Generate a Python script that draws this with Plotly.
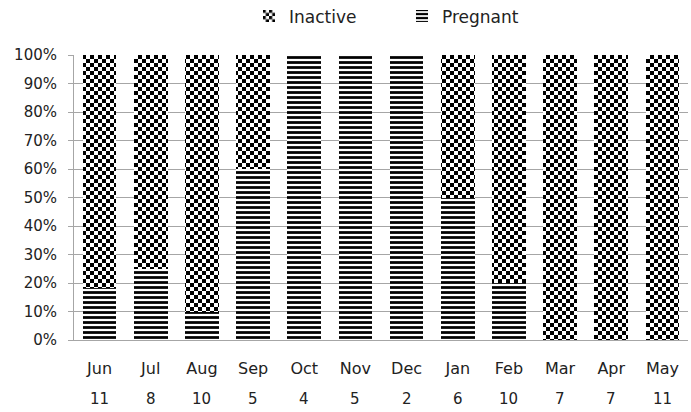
import plotly.graph_objects as go

# Monthly reproductive status counts
months = ["Jun", "Jul", "Aug", "Sep", "Oct", "Nov", "Dec", "Jan", "Feb", "Mar", "Apr", "May"]
sample_size = [11, 8, 10, 5, 4, 5, 2, 6, 10, 7, 7, 11]
pregnant = [2, 2, 1, 3, 4, 5, 2, 3, 2, 0, 0, 0]
inactive = [9, 6, 9, 2, 0, 0, 0, 3, 8, 7, 7, 11]
y_ticks = [0, 10, 20, 30, 40, 50, 60, 70, 80, 90, 100]
y_labels = [f"{v}%" for v in y_ticks]

FONT = "DejaVu Sans"
GRID = "#a6a6a6"

fig = go.Figure()
fig.add_trace(go.Bar(
    x=months, y=pregnant, name="Pregnant",
    marker=dict(color="white", line=dict(width=0),
                pattern=dict(shape="-", size=5, solidity=0.55,
                             fgcolor="black", bgcolor="white", fillmode="replace")),
))
fig.add_trace(go.Bar(
    x=months, y=inactive, name="Inactive",
    marker=dict(color="white", line=dict(width=0),
                pattern=dict(shape=".", size=8, solidity=0.5,
                             fgcolor="black", bgcolor="white", fillmode="replace")),
))

# sample sizes written as a second row under the month labels
for m, n in zip(months, sample_size):
    fig.add_annotation(x=m, y=-0.208, yref="paper", text=str(n), showarrow=False,
                       font=dict(family=FONT, size=15, color="#222"),
                       xanchor="center", yanchor="middle")

fig.update_layout(
    width=691, height=412,
    margin=dict(l=74, r=3, t=55, b=72, autoexpand=False),
    barmode="stack", barnorm="percent", bargap=0.34,
    plot_bgcolor="white", paper_bgcolor="white",
    font=dict(family=FONT, size=15, color="#222"),
    legend=dict(orientation="h", x=0.285, y=1.135, xanchor="left", yanchor="middle",
                traceorder="reversed", entrywidth=108, entrywidthmode="pixels",
                font=dict(family=FONT, size=17, color="#222"), itemwidth=30),
    showlegend=True,
)
fig.update_xaxes(
    showline=True, linecolor=GRID, linewidth=1, ticks="",
    tickfont=dict(family=FONT, size=16, color="#222"), ticklabelstandoff=14,
    showgrid=False,
)
fig.update_yaxes(
    range=[0, 100], tickvals=y_ticks, ticktext=y_labels,
    showline=True, linecolor=GRID, linewidth=1,
    ticks="outside", ticklen=5, tickcolor=GRID,
    showgrid=True, gridcolor=GRID, gridwidth=1, zeroline=False,
    tickfont=dict(family=FONT, size=15, color="#222"), ticklabelstandoff=8,
)

# turn the dot pattern tiles into an axis-aligned checkerboard
checker_js = """
var NS = 'http://www.w3.org/2000/svg';
document.querySelectorAll('pattern').forEach(function(p) {
  if (!p.querySelector('circle')) return;
  var w = parseFloat(p.getAttribute('width')), h = parseFloat(p.getAttribute('height'));
  while (p.firstChild) p.removeChild(p.firstChild);
  var cells = [[0, 0, w, h, 'white'], [0, 0, w / 2, h / 2, 'black'], [w / 2, h / 2, w / 2, h / 2, 'black']];
  cells.forEach(function(c) {
    var r = document.createElementNS(NS, 'rect');
    r.setAttribute('x', c[0]); r.setAttribute('y', c[1]);
    r.setAttribute('width', c[2]); r.setAttribute('height', c[3]);
    r.setAttribute('fill', c[4]);
    p.appendChild(r);
  });
});
"""

fig.write_html("out.html", post_script=checker_js)
